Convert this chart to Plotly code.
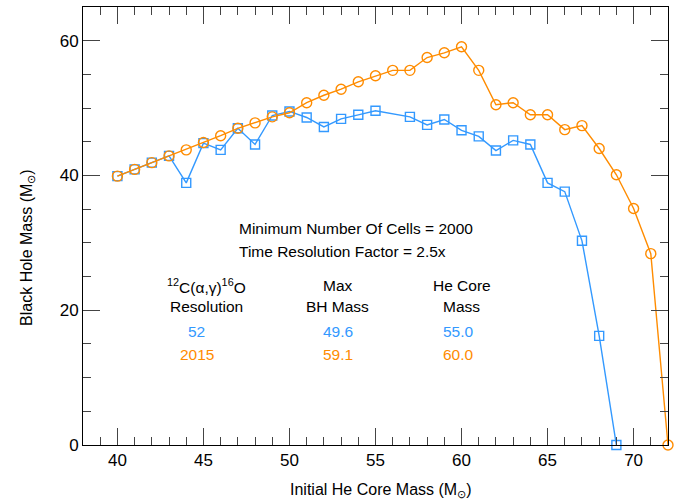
import plotly.graph_objects as go

# Initial He core mass (Msun) and resulting black hole mass (Msun)
he_mass_low = [40, 41, 42, 43, 44, 45, 46, 47, 48, 49, 50, 51, 52, 53, 54, 55,
               57, 58, 59, 60, 61, 62, 63, 64, 65, 66, 67, 68, 69]
bh_mass_low = [39.9, 40.9, 41.9, 42.9, 38.9, 44.8, 43.8, 47.0, 44.6, 48.9, 49.5,
               48.6, 47.2, 48.4, 49.0, 49.6, 48.7, 47.5, 48.3, 46.7, 45.8, 43.7,
               45.2, 44.6, 38.9, 37.6, 30.3, 16.2, 0.0]

he_mass_high = [40, 41, 42, 43, 44, 45, 46, 47, 48, 49, 50, 51, 52, 53, 54, 55,
                56, 57, 58, 59, 60, 61, 62, 63, 64, 65, 66, 67, 68, 69, 70, 71, 72]
bh_mass_high = [39.9, 40.9, 41.9, 42.9, 43.8, 44.9, 45.9, 47.0, 47.8, 48.7, 49.3,
                50.8, 51.9, 52.8, 53.9, 54.8, 55.6, 55.6, 57.5, 58.2, 59.1, 55.6,
                50.5, 50.8, 49.0, 49.0, 46.8, 47.4, 44.0, 40.1, 35.1, 28.4, 0.0]

# Summary table
resolutions = ["52", "2015"]
max_bh = ["49.6", "59.1"]
core_at_max = ["55.0", "60.0"]

BLUE = "#3399ff"
ORANGE = "#ff8c00"
FONT = "Liberation Sans, Arial, Helvetica, sans-serif"

fig = go.Figure()
fig.add_trace(go.Scatter(
    x=he_mass_low, y=bh_mass_low, mode="lines+markers",
    line=dict(color=BLUE, width=1.4),
    marker=dict(symbol="square-open", size=9, color=BLUE, line=dict(width=1.4)),
    showlegend=False, cliponaxis=False,
))
fig.add_trace(go.Scatter(
    x=he_mass_high, y=bh_mass_high, mode="lines+markers",
    line=dict(color=ORANGE, width=1.4),
    marker=dict(symbol="circle-open", size=10, color=ORANGE, line=dict(width=1.4)),
    showlegend=False, cliponaxis=False,
))

ann = []
def txt(x, y, s, color="black", xanchor="center"):
    ann.append(dict(x=x, y=y, xref="x", yref="y", text=s, showarrow=False,
                    xanchor=xanchor, yanchor="middle",
                    font=dict(family=FONT, size=15.5, color=color)))

txt(46.95, 32.2, "Minimum Number Of Cells = 2000", xanchor="left")
txt(46.95, 28.7, "Time Resolution Factor = 2.5x", xanchor="left")

txt(45.2, 23.6, "<sup>12</sup>C(α,γ)<sup>16</sup>O")
txt(45.2, 20.5, "Resolution")
txt(52.8, 23.6, "Max")
txt(52.8, 20.5, "BH Mass")
txt(60.0, 23.6, "He Core")
txt(60.0, 20.5, "Mass")

row_y = [16.9, 13.5]
for i, c in enumerate([BLUE, ORANGE]):
    txt(44.6, row_y[i], resolutions[i], color=c)
    txt(52.8, row_y[i], max_bh[i], color=c)
    txt(59.8, row_y[i], core_at_max[i], color=c)

# Axis titles placed in paper coordinates
ann.append(dict(x=0.508, y=-0.103, xref="paper", yref="paper", showarrow=False,
                text="Initial He Core Mass (M<sub>⊙</sub>)", xanchor="center", yanchor="middle",
                font=dict(family=FONT, size=16, color="black")))
ann.append(dict(x=-0.094, y=0.45, xref="paper", yref="paper", showarrow=False,
                text="Black Hole Mass (M<sub>⊙</sub>)", textangle=-90,
                xanchor="center", yanchor="middle",
                font=dict(family=FONT, size=16, color="black")))

axis_common = dict(
    showgrid=False, zeroline=False, showline=True, linecolor="black", linewidth=1,
    mirror="ticks", ticks="inside", ticklen=17, tickwidth=1, tickcolor="#444",
    tickfont=dict(family=FONT, size=17, color="black"), automargin=False,
)

fig.update_layout(
    width=687, height=500,
    margin=dict(l=83, r=19, t=7, b=55),
    plot_bgcolor="white", paper_bgcolor="white",
    annotations=ann,
    xaxis=dict(range=[38, 72], tickvals=[40, 45, 50, 55, 60, 65, 70],
               minor=dict(dtick=1, ticks="inside", ticklen=8, tickcolor="#444"),
               **axis_common),
    yaxis=dict(range=[0, 65], tickvals=[0, 20, 40, 60],
               minor=dict(dtick=5, ticks="inside", ticklen=8, tickcolor="#444"),
               **axis_common),
)

fig.write_html("out.html")
